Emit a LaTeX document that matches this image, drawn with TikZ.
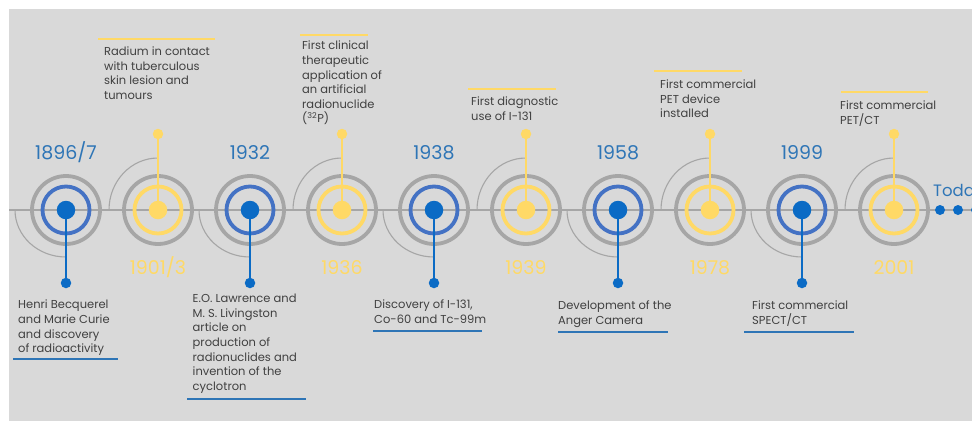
\documentclass[tikz,border=0pt]{standalone}
\usepackage{fontspec}
\setmainfont{Poppins}
\usetikzlibrary{positioning}
\definecolor{panel}{HTML}{D9D9D9}
\definecolor{ringgray}{HTML}{A6A6A6}
\definecolor{ringblue}{HTML}{4472C4}
\definecolor{dotblue}{HTML}{0B6BC5}
\definecolor{yearblue}{HTML}{2E75B6}
\definecolor{gold}{HTML}{FFD966}
\definecolor{txt}{HTML}{404040}

\begin{document}
\begin{tikzpicture}[x=1pt,y=-1pt,
    every node/.style={font=\fontsize{11.5}{14.6}\selectfont},
    outerring/.style={draw=ringgray,line width=3.8pt},
    bluering/.style={draw=ringblue,line width=3.8pt},
    yellowring/.style={draw=gold,line width=3.8pt},
    bluedot/.style={circle,fill=dotblue,minimum size=18.5pt,inner sep=0pt},
    yellowdot/.style={circle,fill=gold,minimum size=18.5pt,inner sep=0pt},
    bluetip/.style={circle,fill=dotblue,minimum size=10.5pt,inner sep=0pt},
    yellowtip/.style={circle,fill=gold,minimum size=10.5pt,inner sep=0pt},
    bluestalk/.style={draw=dotblue,line width=1.5pt},
    yellowstalk/.style={draw=gold,line width=1.5pt},
    sweep/.style={draw=ringgray,line width=1.1pt},
    blueyear/.style={font=\fontsize{19}{19}\selectfont,text=yearblue,anchor=base},
    yellowyear/.style={font=\fontsize{19}{19}\selectfont,text=gold,anchor=base},
    note/.style={align=left,anchor=north west,inner sep=0pt,text=txt},
    underline/.style={draw=yearblue,line width=1.8pt},
    overline/.style={draw=gold,line width=1.8pt}]
  \useasboundingbox (0,0) rectangle (972,421);
  \clip (0,0) rectangle (972,421);
  \fill[white] (0,0) rectangle (972,421);
  \fill[panel] (9,9) rectangle (972,421);
  % Time axis
  \draw[ringgray,line width=1.3pt] (9,210) -- (972,210);
  % 1896/7
  \begin{scope}[xshift=0pt]
    \draw[sweep] (15,210) arc[start angle=180,end angle=90,x radius=51,y radius=47];
    \draw[outerring] (66,210) circle[radius=34];
    \draw[bluering] (66,210) circle[radius=23.5];
    \node[bluedot] (d1) at (66,210) {};
    \node[bluetip] (t1) at (66,283) {};
    \draw[bluestalk] (d1) -- (t1);
    \node[blueyear] (y1) at (66,159) {1896/7};
  \end{scope}
  % 1901/3
  \begin{scope}[xshift=92pt]
    \draw[sweep] (17,210) arc[start angle=180,end angle=270,x radius=49,y radius=52];
    \draw[outerring] (66,210) circle[radius=34];
    \draw[yellowring] (66,210) circle[radius=23.5];
    \node[yellowdot] (d2) at (66,210) {};
    \node[yellowtip] (t2) at (66,134) {};
    \draw[yellowstalk] (d2) -- (t2);
    \node[yellowyear] (y2) at (66,274) {1901/3};
  \end{scope}
  % 1932
  \begin{scope}[xshift=184pt]
    \draw[sweep] (15,210) arc[start angle=180,end angle=90,x radius=51,y radius=47];
    \draw[outerring] (66,210) circle[radius=34];
    \draw[bluering] (66,210) circle[radius=23.5];
    \node[bluedot] (d3) at (66,210) {};
    \node[bluetip] (t3) at (66,283) {};
    \draw[bluestalk] (d3) -- (t3);
    \node[blueyear] (y3) at (66,159) {1932};
  \end{scope}
  % 1936
  \begin{scope}[xshift=276pt]
    \draw[sweep] (17,210) arc[start angle=180,end angle=270,x radius=49,y radius=52];
    \draw[outerring] (66,210) circle[radius=34];
    \draw[yellowring] (66,210) circle[radius=23.5];
    \node[yellowdot] (d4) at (66,210) {};
    \node[yellowtip] (t4) at (66,134) {};
    \draw[yellowstalk] (d4) -- (t4);
    \node[yellowyear] (y4) at (66,274) {1936};
  \end{scope}
  % 1938
  \begin{scope}[xshift=368pt]
    \draw[sweep] (15,210) arc[start angle=180,end angle=90,x radius=51,y radius=47];
    \draw[outerring] (66,210) circle[radius=34];
    \draw[bluering] (66,210) circle[radius=23.5];
    \node[bluedot] (d5) at (66,210) {};
    \node[bluetip] (t5) at (66,283) {};
    \draw[bluestalk] (d5) -- (t5);
    \node[blueyear] (y5) at (66,159) {1938};
  \end{scope}
  % 1939
  \begin{scope}[xshift=460pt]
    \draw[sweep] (17,210) arc[start angle=180,end angle=270,x radius=49,y radius=52];
    \draw[outerring] (66,210) circle[radius=34];
    \draw[yellowring] (66,210) circle[radius=23.5];
    \node[yellowdot] (d6) at (66,210) {};
    \node[yellowtip] (t6) at (66,134) {};
    \draw[yellowstalk] (d6) -- (t6);
    \node[yellowyear] (y6) at (66,274) {1939};
  \end{scope}
  % 1958
  \begin{scope}[xshift=552pt]
    \draw[sweep] (15,210) arc[start angle=180,end angle=90,x radius=51,y radius=47];
    \draw[outerring] (66,210) circle[radius=34];
    \draw[bluering] (66,210) circle[radius=23.5];
    \node[bluedot] (d7) at (66,210) {};
    \node[bluetip] (t7) at (66,283) {};
    \draw[bluestalk] (d7) -- (t7);
    \node[blueyear] (y7) at (66,159) {1958};
  \end{scope}
  % 1978
  \begin{scope}[xshift=644pt]
    \draw[sweep] (17,210) arc[start angle=180,end angle=270,x radius=49,y radius=52];
    \draw[outerring] (66,210) circle[radius=34];
    \draw[yellowring] (66,210) circle[radius=23.5];
    \node[yellowdot] (d8) at (66,210) {};
    \node[yellowtip] (t8) at (66,134) {};
    \draw[yellowstalk] (d8) -- (t8);
    \node[yellowyear] (y8) at (66,274) {1978};
  \end{scope}
  % 1999
  \begin{scope}[xshift=736pt]
    \draw[sweep] (15,210) arc[start angle=180,end angle=90,x radius=51,y radius=47];
    \draw[outerring] (66,210) circle[radius=34];
    \draw[bluering] (66,210) circle[radius=23.5];
    \node[bluedot] (d9) at (66,210) {};
    \node[bluetip] (t9) at (66,283) {};
    \draw[bluestalk] (d9) -- (t9);
    \node[blueyear] (y9) at (66,159) {1999};
  \end{scope}
  % 2001
  \begin{scope}[xshift=828pt]
    \draw[sweep] (17,210) arc[start angle=180,end angle=270,x radius=49,y radius=52];
    \draw[outerring] (66,210) circle[radius=34];
    \draw[yellowring] (66,210) circle[radius=23.5];
    \node[yellowdot] (d10) at (66,210) {};
    \node[yellowtip] (t10) at (66,134) {};
    \draw[yellowstalk] (d10) -- (t10);
    \node[yellowyear] (y10) at (66,274) {2001};
  \end{scope}
  % Today
  \node[circle,fill=dotblue,minimum size=10pt,inner sep=0pt] (now1) at (940,210) {};
  \node[circle,fill=dotblue,minimum size=10pt,inner sep=0pt] (now2) at (958,210) {};
  \node[circle,fill=dotblue,minimum size=10pt,inner sep=0pt] (now3) at (976,210) {};
  \node[font=\fontsize{16.5}{16.5}\selectfont,text=yearblue,anchor=base west,inner sep=0pt] (today) at (933,196) {Today};
  % Notes below the axis
  \node[note] (becquerel) at (18,300) {Henri Becquerel\\and Marie Curie\\and discovery\\of radioactivity};
  \draw[underline] (13,359) -- (118,359);
  \node[note] (lawrence) at (192.5,294) {E.O. Lawrence and\\M. S. Livingston\\article on\\production of\\radionuclides and\\invention of the\\cyclotron};
  \draw[underline] (187,399) -- (306,399);
  \node[note] (iodine) at (374,300) {Discovery of I-131,\\Co-60 and Tc-99m};
  \draw[underline] (373,331) -- (482,331);
  \node[note] (anger) at (558,301) {Development of the\\Anger Camera};
  \draw[underline] (558,332) -- (668,332);
  \node[note] (spect) at (752,301) {First commercial\\SPECT/CT};
  \draw[underline] (744,332) -- (854,332);
  % Notes above the axis
  \node[note] (radium) at (104,46.5) {Radium in contact\\with tuberculous\\skin lesion and\\tumours};
  \draw[overline] (98,38.7) -- (215,38.7);
  \node[note] (phosphorus) at (302,41) {First clinical\\therapeutic\\application of\\an artificial\\radionuclide\\(\textsuperscript{32}P)};
  \draw[overline] (300,35.3) -- (368,35.3);
  \node[note] (diagnostic) at (471,97) {First diagnostic\\use of I-131};
  \draw[overline] (468,89.3) -- (556,89.3);
  \node[note] (pet) at (660,79.5) {First commercial\\PET device\\installed};
  \draw[overline] (654,71.3) -- (742,71.3);
  \node[note] (petct) at (840,101) {First commercial\\PET/CT};
  \draw[overline] (841,92.3) -- (928,92.3);
\end{tikzpicture}
\end{document}
